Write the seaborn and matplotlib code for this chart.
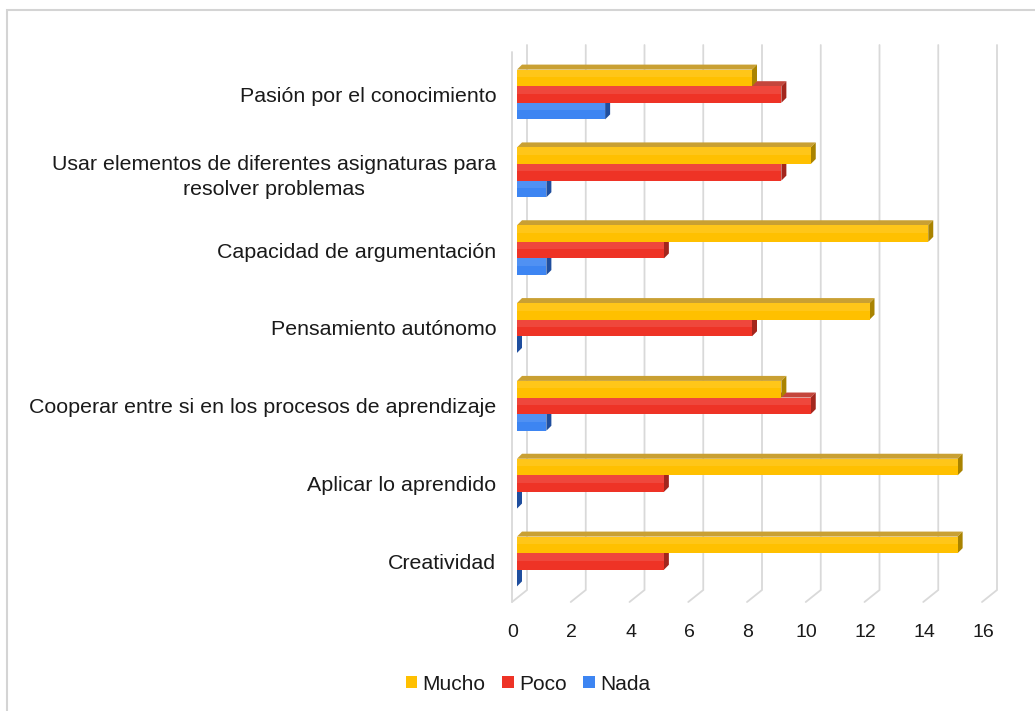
import numpy as np
import pandas as pd
import matplotlib
matplotlib.use("Agg")
import matplotlib.pyplot as plt
from matplotlib.patches import Polygon, Rectangle
from matplotlib.transforms import ScaledTranslation
import seaborn as sns

categories = [
    "Pasión por el conocimiento",
    "Usar elementos de diferentes asignaturas para\nresolver problemas",
    "Capacidad de argumentación",
    "Pensamiento autónomo",
    "Cooperar entre si en los procesos de aprendizaje",
    "Aplicar lo aprendido",
    "Creatividad",
]
mucho = [8, 10, 14, 12, 9, 15, 15]
poco = [9, 9, 5, 8, 10, 5, 5]
nada = [3, 1, 1, 0, 1, 0, 0]
series = ["Mucho", "Poco", "Nada"]
xticks = [0, 2, 4, 6, 8, 10, 12, 14, 16]

front = {"Mucho": "#FFC000", "Poco": "#EE3326", "Nada": "#3D85F2"}
side = {"Mucho": "#A98300", "Poco": "#A3261D", "Nada": "#1F4E9E"}
top = {"Mucho": "#C9A033", "Poco": "#C4463C", "Nada": "#3366B8"}

df = pd.DataFrame({"Categoría": categories, "Mucho": mucho, "Poco": poco, "Nada": nada})
long = df.melt(id_vars="Categoría", var_name="Serie", value_name="Valor")

sns.set_style("white")
plt.rcParams["font.family"] = ["Liberation Sans", "DejaVu Sans"]

W, H = 1035, 711
fig = plt.figure(figsize=(W / 100, H / 100), dpi=100)
ax = fig.add_axes([517 / W, 1 - 600 / H, 470 / W, 555 / H])

sns.barplot(data=long, y="Categoría", x="Valor", hue="Serie", hue_order=series,
            palette=front, orient="h", width=0.64, saturation=1, ax=ax,
            legend=False, linewidth=0)

ax.set_xlim(0, 16)
ax.set_ylim(6.495, -0.636)
for s in ax.spines.values():
    s.set_visible(False)
ax.set_xlabel("")
ax.set_ylabel("")
ax.set_xticks(xticks)
ax.tick_params(axis="both", length=0)
ax.tick_params(axis="y", pad=15, labelsize=15.4, labelcolor="#1a1a1a")
ax.tick_params(axis="x", pad=17, labelsize=14, labelcolor="#1a1a1a")
for lab in ax.get_yticklabels():
    lab.set_multialignment("center")
    lab.set_linespacing(1.4)


def to_data(px, py):
    # image pixel (origin top-left) -> data coords
    return ax.transData.inverted().transform((px, H - py))


def shift(x, y, dx, dy):
    # shift data point by dx px right, dy px up
    d = ax.transData.transform((x, y))
    return ax.transData.inverted().transform((d[0] + dx, d[1] + dy))


# back wall gridlines and floor diagonals
for t in xticks:
    px = ax.transData.transform((t, 0))[0]
    a = to_data(px + 10, 45)
    b = to_data(px + 10, 590)
    c = to_data(px - 5, 602)
    ax.plot([a[0], b[0], c[0]], [a[1], b[1], c[1]], color="#d9d9d9", lw=1.3,
            zorder=0.5, clip_on=False, solid_joinstyle="miter")
# left wall front line
p0 = ax.transData.transform((0, 0))[0]
a = to_data(p0 - 5, 52)
b = to_data(p0 - 5, 602)
ax.plot([a[0], b[0]], [a[1], b[1]], color="#d9d9d9", lw=1.3, zorder=0.5, clip_on=False)

# pseudo 3D faces
DX, DY = 5, 5
zbase = {"Mucho": 6, "Poco": 4, "Nada": 2}
for name, cont in zip(series, ax.containers):
    for p in cont.patches:
        x0, y0 = p.get_x(), p.get_y()
        x1, y1 = x0 + p.get_width(), y0 + p.get_height()
        ytop, ybot = min(y0, y1), max(y0, y1)
        p.set_zorder(zbase[name])
        topface = [(x0, ytop), (x1, ytop), tuple(shift(x1, ytop, DX, DY)), tuple(shift(x0, ytop, DX, DY))]
        sideface = [(x1, ytop), (x1, ybot), tuple(shift(x1, ybot, DX, DY)), tuple(shift(x1, ytop, DX, DY))]
        ax.add_patch(Polygon(topface, closed=True, facecolor=top[name], edgecolor="none",
                             zorder=zbase[name] - 0.5))
        ax.add_patch(Polygon(sideface, closed=True, facecolor=side[name], edgecolor="none",
                             zorder=zbase[name] - 0.4))
        # soft highlight on upper part of the front face
        hl_h = (ybot - ytop) * 0.45
        ax.add_patch(Rectangle((x0, ytop), x1 - x0, hl_h, facecolor="white", alpha=0.1,
                               edgecolor="none", zorder=zbase[name] + 0.1))

# x tick labels sit on the front plane
off = ScaledTranslation(-4 / 100, 0, fig.dpi_scale_trans)
for lab in ax.get_xticklabels():
    lab.set_transform(lab.get_transform() + off)

handles = [Rectangle((0, 0), 1, 1, facecolor=front[s], edgecolor="none") for s in series]
fig.legend(handles, series, loc="center", bbox_to_anchor=(528 / W, 1 - 684 / H), ncol=3,
           frameon=False, fontsize=15, handlelength=0.55, handleheight=0.55,
           handletextpad=0.25, columnspacing=0.8, labelcolor="#1a1a1a")

fig.add_artist(Rectangle((7 / W, -0.05), 1.1, 1.05 - 10 / H, transform=fig.transFigure,
                         fill=False, edgecolor="#d4d4d4", lw=1.5))

fig.savefig("out.png", dpi=100, facecolor="white")
